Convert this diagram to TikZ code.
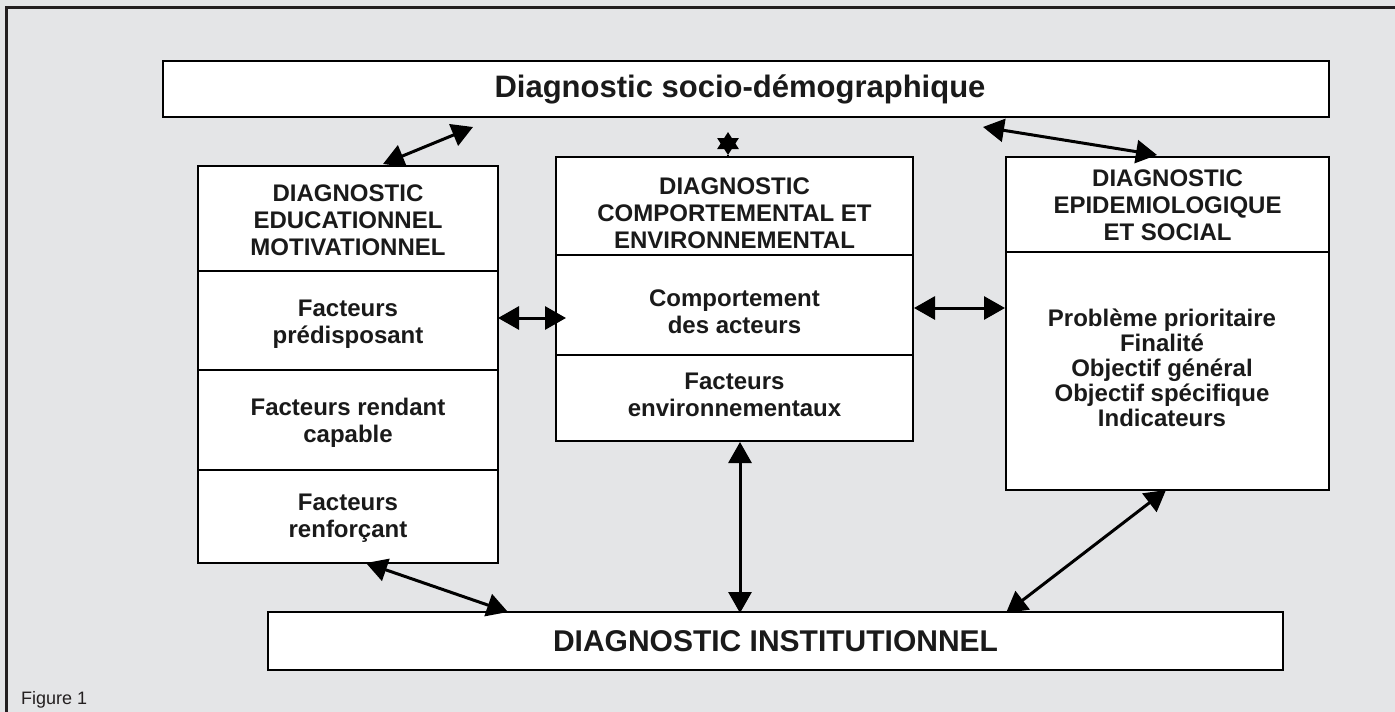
\documentclass[tikz,border=0pt]{standalone}
\usepackage{fontspec}
\setmainfont{Liberation Sans}
\usetikzlibrary{arrows.meta}
\definecolor{bg}{HTML}{E4E5E7}
\definecolor{framec}{HTML}{231F20}
\definecolor{ink}{HTML}{1A1A1A}
\begin{document}
\begin{tikzpicture}[x=1pt,y=-1pt,
  box/.style={draw=black, line width=1.8pt, fill=white, inner sep=0pt},
  txt/.style={font=\fontsize{24}{27}\selectfont\bfseries, align=center, text=ink, inner sep=0pt},
  bigtxt/.style={font=\fontsize{30}{34}\selectfont\bfseries, align=center, text=ink, inner sep=0pt},
  divider/.style={draw=black, line width=1.8pt},
  arr/.style={{Triangle[length=21pt,width=23pt]}-{Triangle[length=21pt,width=23pt]}, line width=3pt},
  stararr/.style={{Triangle[length=17pt,width=21pt]}-{Triangle[length=17pt,width=21pt]}, line width=3pt},
]
\fill[bg] (0,0) rectangle (1395,712);
\useasboundingbox (0,0) rectangle (1395,712);
\draw[framec, line width=3pt] (6,712) -- (6,7) -- (1395,7);

% boxes
\node[box, minimum width=1166pt, minimum height=56pt] (top) at (746,89) {};
\node[box, minimum width=300pt, minimum height=397pt] (left) at (348,364.5) {};
\node[box, minimum width=357pt, minimum height=284pt] (mid) at (734.5,299) {};
\node[box, minimum width=323pt, minimum height=333pt] (right) at (1167.5,323.5) {};
\node[box, minimum width=1015pt, minimum height=58pt] (bot) at (775.5,641) {};

% dividers
\draw[divider] (left.west |- 0,271) -- (left.east |- 0,271);
\draw[divider] (left.west |- 0,370) -- (left.east |- 0,370);
\draw[divider] (left.west |- 0,470) -- (left.east |- 0,470);
\draw[divider] (mid.west |- 0,255) -- (mid.east |- 0,255);
\draw[divider] (mid.west |- 0,355) -- (mid.east |- 0,355);
\draw[divider] (right.west |- 0,252) -- (right.east |- 0,252);

% texts
\node[bigtxt, font=\fontsize{31}{34}\selectfont\bfseries] (ttop) at (740,89) {Diagnostic socio-démographique};
\node[bigtxt] (tbot) at (775.5,641) {DIAGNOSTIC INSTITUTIONNEL};

\node[txt] (l1) at (348,220) {DIAGNOSTIC\\EDUCATIONNEL\\MOTIVATIONNEL};
\node[txt] (l2) at (348,324) {Facteurs\\prédisposant};
\node[txt] (l3) at (348,423) {Facteurs rendant\\capable};
\node[txt] (l4) at (348,518) {Facteurs\\renforçant};

\node[txt] (m1) at (734.5,213) {DIAGNOSTIC\\COMPORTEMENTAL ET\\ENVIRONNEMENTAL};
\node[txt] (m2) at (734.5,312) {Comportement\\des acteurs};
\node[txt] (m3) at (734.5,395) {Facteurs\\environnementaux};

\node[txt] (r1) at (1167.5,205) {DIAGNOSTIC\\EPIDEMIOLOGIQUE\\ET SOCIAL};
\node[txt, font=\fontsize{24}{25}\selectfont\bfseries] (r2) at (1162,368) {Problème prioritaire\\Finalité\\Objectif général\\Objectif spécifique\\Indicateurs};

\node[font=\fontsize{18}{20}\selectfont, text=framec, anchor=west, inner sep=0pt] (fig) at (21,700) {Figure 1};

% connector end points
\coordinate (a1) at (383,164);  \coordinate (a2) at (473,127);
\coordinate (b1) at (983,127);  \coordinate (b2) at (1157,155);
\coordinate (c1) at (498,318);  \coordinate (c2) at (566,318);
\coordinate (d1) at (914,308);  \coordinate (d2) at (1005,308);
\coordinate (e1) at (366,563);  \coordinate (e2) at (508,612);
\coordinate (f1) at (740,442);  \coordinate (f2) at (740,613);
\coordinate (g1) at (1166,490); \coordinate (g2) at (1006,613);
\coordinate (s1) at (728,132);  \coordinate (s2) at (728,155);

\draw[arr] (a1) -- (a2);
\draw[arr] (b1) -- (b2);
\draw[arr] (c1) -- (c2);
\draw[arr] (d1) -- (d2);
\draw[arr] (e1) -- (e2);
\draw[arr] (f1) -- (f2);
\draw[arr] (g1) -- (g2);
\draw[stararr] (s1) -- (s2);
\draw[line width=2.6pt] (s2) -- (mid.north -| s2);
\end{tikzpicture}
\end{document}
